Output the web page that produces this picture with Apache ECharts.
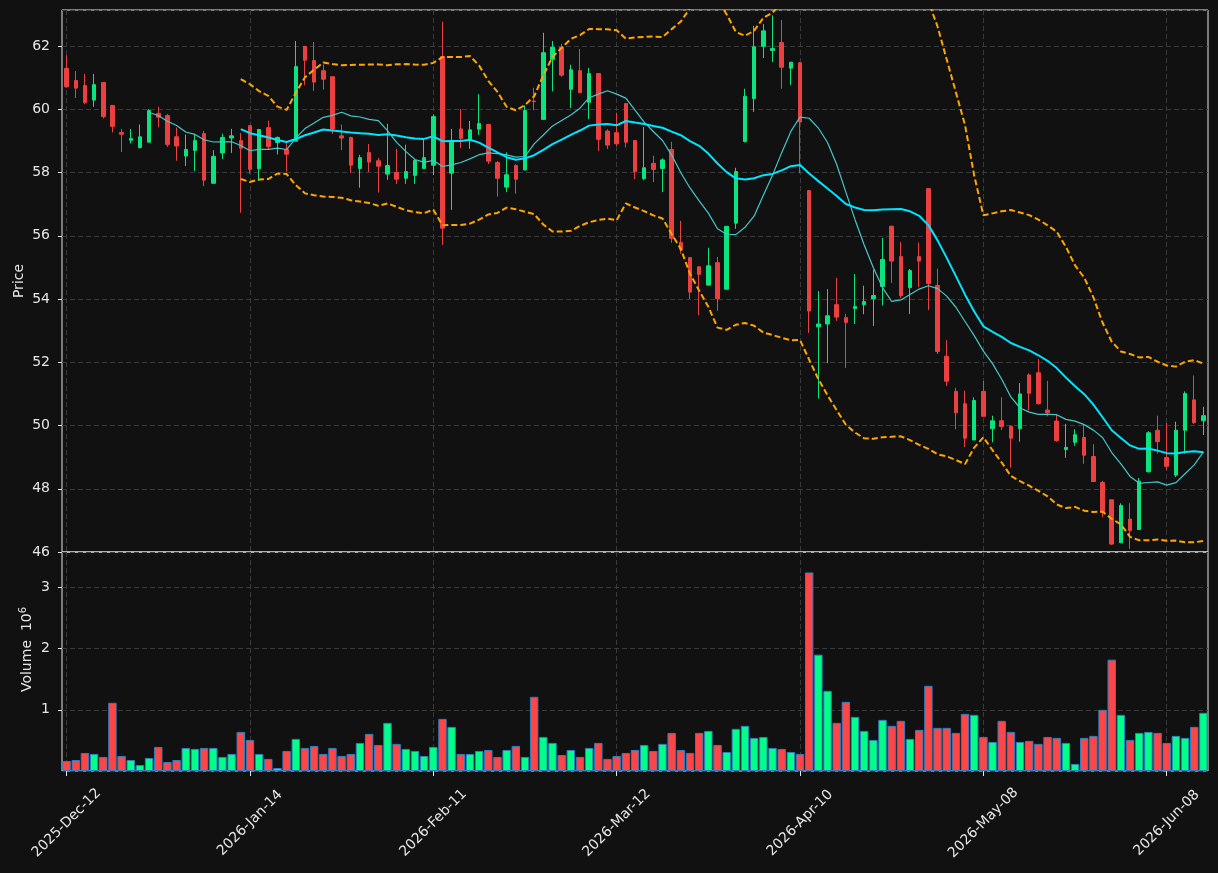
<!DOCTYPE html>
<html>
<head>
<meta charset="utf-8">
<title>Price / Volume</title>
<script src="https://cdn.jsdelivr.net/npm/echarts@6/dist/echarts.min.js"></script>
<style>
  html, body { margin: 0; padding: 0; background: #111111; }
  #chart { width: 1218px; height: 873px; }
</style>
</head>
<body>
<div id="chart"></div>
<script>
// trading calendar (weekdays, minus closed days)
var startDay = "2025-12-12";
var barCount = 125;
var closedDays = ["2025-12-25", "2025-12-26", "2026-01-01", "2026-02-16", "2026-04-03", "2026-05-25"];

var opens = [
  61.29, 60.91, 60.75, 60.29, 60.85, 60.12, 59.27, 59.02, 58.79, 58.96,
  59.87, 59.80, 59.13, 58.52, 58.70, 59.23, 57.66, 58.62, 59.09, 59.01,
  59.48, 58.12, 59.42, 58.95, 58.73, 58.99, 61.99, 61.54, 61.22, 61.03,
  59.16, 59.11, 58.13, 58.63, 58.37, 57.95, 58.00, 57.82, 57.91, 58.13,
  58.23, 61.67, 57.98, 59.38, 59.05, 59.37, 59.52, 58.32, 57.54, 58.22,
  58.08, 60.26, 59.68, 61.58, 61.96, 60.63, 61.22, 60.22, 61.13, 59.31,
  59.26, 60.18, 59.01, 57.81, 58.29, 58.13, 58.73, 55.79, 55.31, 55.02,
  54.44, 55.15, 54.31, 56.40, 58.98, 60.34, 61.99, 61.86, 62.11, 61.30,
  61.47, 57.43, 53.12, 53.21, 53.82, 53.41, 53.70, 53.82, 54.01, 54.40,
  56.30, 55.34, 54.36, 55.34, 57.49, 54.43, 52.19, 51.08, 50.69, 49.54,
  51.08, 49.90, 50.15, 49.98, 49.90, 51.60, 51.67, 50.49, 50.14, 49.24,
  49.47, 49.62, 49.02, 48.20, 47.65, 46.29, 47.04, 46.71, 48.54, 49.85,
  48.99, 48.43, 49.85, 50.81, 50.15
];
var highs = [
  61.71, 61.21, 61.12, 61.12, 60.85, 60.14, 59.38, 59.38, 59.52, 60.01,
  60.08, 59.85, 59.42, 59.20, 59.20, 59.32, 58.71, 59.23, 59.38, 59.25,
  59.50, 59.38, 59.64, 59.14, 58.95, 62.16, 62.00, 62.13, 61.42, 61.05,
  59.52, 59.13, 58.56, 58.90, 58.46, 59.54, 58.75, 58.88, 58.40, 59.07,
  59.84, 62.77, 59.38, 60.01, 59.63, 60.48, 59.54, 58.36, 58.64, 58.26,
  60.12, 60.68, 62.42, 62.16, 62.07, 61.41, 61.91, 61.31, 61.15, 59.37,
  59.89, 60.20, 59.03, 59.44, 58.53, 58.45, 58.97, 56.47, 55.33, 55.04,
  55.62, 55.33, 56.30, 58.15, 60.65, 62.64, 62.70, 62.97, 62.82, 61.49,
  61.49, 57.45, 54.25, 54.31, 54.67, 53.53, 54.79, 54.42, 54.93, 55.93,
  56.32, 55.80, 54.95, 55.79, 57.50, 54.96, 52.70, 51.19, 51.10, 50.89,
  51.41, 50.31, 50.89, 50.01, 51.34, 51.65, 52.10, 51.41, 50.34, 50.05,
  49.88, 50.02, 49.41, 48.25, 47.65, 47.54, 47.54, 48.34, 49.82, 50.31,
  50.08, 50.12, 51.08, 51.58, 50.59
];
var lows = [
  60.68, 60.36, 60.16, 60.08, 59.71, 59.27, 58.65, 58.92, 58.76, 58.96,
  59.43, 58.81, 58.37, 58.21, 58.05, 57.57, 57.66, 58.43, 58.62, 56.73,
  57.96, 57.74, 58.71, 58.57, 58.03, 58.99, 60.76, 60.58, 60.62, 59.22,
  58.71, 57.99, 57.52, 58.02, 57.37, 57.77, 57.64, 57.64, 57.64, 58.13,
  57.92, 55.71, 56.82, 58.77, 58.75, 59.19, 58.27, 57.24, 57.38, 57.33,
  58.08, 59.97, 59.68, 60.57, 61.03, 60.04, 60.51, 59.69, 58.68, 58.75,
  58.84, 58.79, 57.79, 57.76, 57.70, 57.38, 55.78, 55.43, 54.00, 53.49,
  54.42, 53.63, 54.31, 56.22, 58.95, 59.92, 61.62, 61.49, 60.65, 60.77,
  57.98, 52.93, 50.85, 51.97, 53.31, 51.82, 53.21, 53.52, 53.15, 53.80,
  54.51, 54.03, 53.53, 54.38, 53.65, 52.26, 51.25, 49.88, 49.32, 49.54,
  50.29, 49.47, 49.86, 48.67, 49.49, 50.48, 50.66, 50.29, 49.49, 48.98,
  49.36, 48.79, 48.23, 47.10, 46.23, 46.29, 46.10, 46.71, 48.51, 49.11,
  48.59, 48.37, 49.11, 50.05, 49.70
];
var closes = [
  60.71, 60.67, 60.21, 60.78, 59.77, 59.46, 59.21, 59.08, 59.13, 59.96,
  59.75, 58.89, 58.84, 58.73, 59.01, 57.76, 58.51, 59.11, 59.16, 58.77,
  58.10, 59.36, 58.82, 59.11, 58.58, 61.35, 61.55, 60.86, 60.95, 59.38,
  59.09, 58.23, 58.47, 58.33, 58.20, 58.22, 57.79, 58.03, 58.38, 58.47,
  59.77, 56.24, 58.99, 59.08, 59.35, 59.55, 58.36, 57.82, 57.93, 57.79,
  59.96, 60.24, 61.79, 61.96, 61.08, 61.25, 60.53, 61.13, 59.05, 58.87,
  58.91, 58.96, 58.03, 58.15, 58.10, 58.40, 55.92, 55.56, 54.22, 54.78,
  55.05, 54.01, 56.30, 58.03, 60.41, 61.98, 62.48, 61.92, 61.33, 61.49,
  59.60, 53.62, 53.21, 53.47, 53.43, 53.26, 53.76, 53.92, 54.11, 55.25,
  55.20, 54.11, 54.90, 55.20, 54.49, 52.34, 51.40, 50.40, 49.60, 50.79,
  50.29, 50.15, 49.97, 49.60, 51.00, 51.02, 50.69, 50.40, 49.52, 49.31,
  49.71, 49.06, 48.23, 47.26, 46.25, 47.47, 46.68, 48.24, 49.77, 49.49,
  48.71, 49.85, 51.01, 50.09, 50.31
];
// volume, in millions
var volumes = [
  0.164, 0.180, 0.295, 0.279, 0.230, 1.115, 0.246, 0.180, 0.098, 0.213,
  0.393, 0.148, 0.180, 0.377, 0.361, 0.377, 0.377, 0.230, 0.279, 0.639,
  0.508, 0.279, 0.197, 0.049, 0.328, 0.525, 0.377, 0.410, 0.279, 0.377,
  0.246, 0.279, 0.459, 0.607, 0.426, 0.787, 0.443, 0.361, 0.328, 0.246,
  0.393, 0.852, 0.721, 0.279, 0.279, 0.328, 0.344, 0.230, 0.344, 0.410,
  0.230, 1.213, 0.557, 0.459, 0.262, 0.344, 0.230, 0.377, 0.459, 0.197,
  0.246, 0.295, 0.344, 0.426, 0.328, 0.443, 0.623, 0.344, 0.295, 0.623,
  0.656, 0.426, 0.311, 0.689, 0.738, 0.541, 0.557, 0.377, 0.361, 0.311,
  0.279, 3.246, 1.902, 1.311, 0.787, 1.131, 0.885, 0.656, 0.508, 0.836,
  0.738, 0.820, 0.525, 0.672, 1.393, 0.705, 0.705, 0.623, 0.934, 0.918,
  0.557, 0.475, 0.820, 0.639, 0.475, 0.492, 0.443, 0.557, 0.541, 0.459,
  0.115, 0.541, 0.574, 1.000, 1.820, 0.918, 0.508, 0.623, 0.639, 0.623,
  0.459, 0.574, 0.541, 0.721, 0.951
];

var UP = "#0be37e";
var DOWN = "#ec4040";
var VOL_UP = "#00ff88";
var VOL_DOWN = "#ff4545";
var TEXT = "#e6e6e6";
var GRIDLINE = "#3a3a3a";
var FONT = "DejaVu Sans";

function tradingDays(start, count, skip) {
  var months = ["Jan", "Feb", "Mar", "Apr", "May", "Jun", "Jul", "Aug", "Sep", "Oct", "Nov", "Dec"];
  var res = [];
  var d = new Date(start + "T00:00:00Z");
  while (res.length < count) {
    var iso = d.toISOString().slice(0, 10);
    var wd = d.getUTCDay();
    if (wd !== 0 && wd !== 6 && skip.indexOf(iso) < 0) {
      res.push(iso.slice(0, 4) + "-" + months[d.getUTCMonth()] + "-" + iso.slice(8, 10));
    }
    d.setUTCDate(d.getUTCDate() + 1);
  }
  return res;
}

function calculateMA(dayCount, data) {
  var result = [];
  for (var i = 0, len = data.length; i < len; i++) {
    if (i < dayCount - 1) {
      result.push("-");
      continue;
    }
    var sum = 0;
    for (var j = 0; j < dayCount; j++) {
      sum += data[i - j];
    }
    result.push(+(sum / dayCount).toFixed(4));
  }
  return result;
}

// bollinger band, 20 bars, 2 std (sample std)
function calculateBand(dayCount, data, k) {
  var mid = calculateMA(dayCount, data);
  var upper = [];
  var lower = [];
  for (var i = 0, len = data.length; i < len; i++) {
    if (mid[i] === "-") {
      upper.push("-");
      lower.push("-");
      continue;
    }
    var ss = 0;
    for (var j = 0; j < dayCount; j++) {
      ss += Math.pow(data[i - j] - mid[i], 2);
    }
    var sd = Math.sqrt(ss / (dayCount - 1));
    upper.push(+(mid[i] + k * sd).toFixed(4));
    lower.push(+(mid[i] - k * sd).toFixed(4));
  }
  return [upper, lower];
}

var dates = tradingDays(startDay, barCount, closedDays);

var candles = [];
var volBars = [];
for (var i = 0; i < barCount; i++) {
  candles.push([opens[i], closes[i], lows[i], highs[i]]);
  volBars.push({
    value: volumes[i],
    itemStyle: { color: closes[i] >= opens[i] ? VOL_UP : VOL_DOWN }
  });
}
var ma10 = calculateMA(10, closes);
var ma20 = calculateMA(20, closes);
var band = calculateBand(20, closes, 2);

var chart = echarts.init(document.getElementById("chart"));

var splitLine = {
  show: true,
  interval: 19,
  alignWithLabel: true,
  lineStyle: { color: GRIDLINE, type: [5, 3], width: 1 }
};
var ySplit = {
  show: true,
  lineStyle: { color: GRIDLINE, type: [5, 3], width: 1 }
};

var option = {
  backgroundColor: "#111111",
  animation: false,
  textStyle: { fontFamily: FONT },
  grid: [
    { left: 62, top: 10, width: 1146, height: 542, show: true, borderColor: "#e6e6e6", borderWidth: 1 },
    { left: 62, top: 552, width: 1146, height: 219, show: true, borderColor: "#e6e6e6", borderWidth: 1 }
  ],
  xAxis: [
    {
      type: "category",
      gridIndex: 0,
      data: dates,
      boundaryGap: true,
      axisLine: { show: false },
      axisTick: { show: false },
      axisLabel: { show: false },
      splitLine: splitLine
    },
    {
      type: "category",
      gridIndex: 1,
      data: dates,
      boundaryGap: true,
      axisLine: { show: false },
      axisTick: {
        show: true,
        interval: 19,
        alignWithLabel: true,
        length: 5,
        lineStyle: { color: "#e6e6e6" }
      },
      axisLabel: {
        interval: 19,
        rotate: 45,
        align: "center",
        verticalAlign: "middle",
        margin: 52,
        color: TEXT,
        fontSize: 14,
        fontFamily: FONT
      },
      splitLine: splitLine
    }
  ],
  yAxis: [
    {
      type: "value",
      gridIndex: 0,
      min: 46,
      max: 63.14,
      interval: 2,
      name: "Price",
      nameLocation: "middle",
      nameGap: 36,
      nameMoveOverlap: false,
      nameRotate: 90,
      nameTextStyle: { color: TEXT, fontSize: 14, fontFamily: FONT },
      axisLine: { show: false },
      axisTick: { show: true, length: 4, lineStyle: { color: "#e6e6e6" } },
      axisLabel: { color: TEXT, fontSize: 14, fontFamily: FONT, margin: 12, showMaxLabel: false },
      splitLine: ySplit
    },
    {
      type: "value",
      gridIndex: 1,
      min: 0,
      max: 3.58,
      interval: 1,
      name: "Volume  10{sup|6}",
      nameLocation: "middle",
      nameGap: 25,
      nameMoveOverlap: false,
      nameRotate: 90,
      nameTextStyle: {
        color: TEXT,
        fontSize: 14,
        fontFamily: FONT,
        padding: [0, 0, 0, 24],
        rich: {
          sup: { color: TEXT, fontSize: 10, fontFamily: FONT, padding: [0, 0, 9, 0] }
        }
      },
      axisLine: { show: false },
      axisTick: { show: true, length: 4, lineStyle: { color: "#e6e6e6" } },
      axisLabel: {
        color: TEXT,
        fontSize: 14,
        fontFamily: FONT,
        margin: 12,
        showMinLabel: false,
        showMaxLabel: false
      },
      splitLine: ySplit
    }
  ],
  series: [
    {
      name: "OHLC",
      type: "candlestick",
      xAxisIndex: 0,
      yAxisIndex: 0,
      data: candles,
      barWidth: 4,
      itemStyle: {
        color: UP,
        color0: DOWN,
        borderColor: UP,
        borderColor0: DOWN,
        borderWidth: 1
      }
    },
    {
      name: "MA10",
      type: "line",
      xAxisIndex: 0,
      yAxisIndex: 0,
      data: ma10,
      showSymbol: false,
      symbol: "none",
      lineStyle: { color: "#46c8c8", width: 1.2 },
      z: 3
    },
    {
      name: "MA20",
      type: "line",
      xAxisIndex: 0,
      yAxisIndex: 0,
      data: ma20,
      showSymbol: false,
      symbol: "none",
      lineStyle: { color: "#00e5ff", width: 2 },
      z: 4
    },
    {
      name: "BB upper",
      type: "line",
      xAxisIndex: 0,
      yAxisIndex: 0,
      data: band[0],
      showSymbol: false,
      symbol: "none",
      lineStyle: { color: "#ffa500", width: 2, type: [6, 3] },
      z: 4
    },
    {
      name: "BB lower",
      type: "line",
      xAxisIndex: 0,
      yAxisIndex: 0,
      data: band[1],
      showSymbol: false,
      symbol: "none",
      lineStyle: { color: "#ffa500", width: 2, type: [6, 3] },
      z: 4
    },
    {
      name: "Volume",
      type: "bar",
      xAxisIndex: 1,
      yAxisIndex: 1,
      data: volBars,
      barWidth: "92%",
      itemStyle: { borderColor: "#2f7fc0", borderWidth: 1 }
    }
  ]
};

chart.setOption(option);
</script>
</body>
</html>
